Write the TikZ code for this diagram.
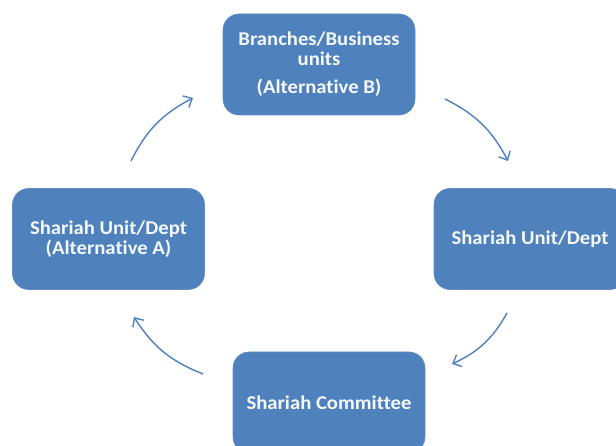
\documentclass[tikz,border=0pt]{standalone}
\usepackage{fontspec}
\setmainfont{Carlito}[Ligatures=NoCommon, FakeStretch=1.06]
\usetikzlibrary{arrows.meta}
\definecolor{boxblue}{HTML}{4F81BD}
\definecolor{arrblue}{HTML}{4F81BD}
\tikzset{
  stagebox/.style={fill=boxblue, draw=boxblue!90!white, line width=0.6pt, rounded corners=16pt,
    minimum width=192pt, minimum height=101pt, text=white!95!boxblue, align=center,
    font=\fontsize{19.5}{20}\selectfont\bfseries, inner sep=0pt},
  cyclearrow/.style={draw=arrblue, line width=1.4pt, bend left=18,
    -{Straight Barb[length=7pt,width=13pt,line width=1.4pt]}}
}
\begin{document}
\begin{tikzpicture}[x=1pt,y=1pt]
\useasboundingbox (0,0) rectangle (616,446);
\fill[white] (0,0) rectangle (616,446);
\node[stagebox] (top) at (319,381.5) {Branches/Business\\units\\[8pt](Alternative B)};
\node[stagebox] (right) at (530,207) {Shariah Unit/Dept};
\node[stagebox] (left) at (108.5,207) {Shariah Unit/Dept\\(Alternative A)};
\node[stagebox] (bottom) at (329,43.5) {Shariah Committee};
\coordinate (a1s) at (131,285);
\coordinate (a1e) at (193,348);
\coordinate (a2s) at (445,347);
\coordinate (a2e) at (508,285);
\coordinate (a3s) at (507,133);
\coordinate (a3e) at (452,82);
\coordinate (a4s) at (203,72);
\coordinate (a4e) at (134,129);
\draw[cyclearrow] (a1s) to (a1e);
\draw[cyclearrow] (a2s) to (a2e);
\draw[cyclearrow] (a3s) to (a3e);
\draw[cyclearrow] (a4s) to (a4e);
\end{tikzpicture}
\end{document}
